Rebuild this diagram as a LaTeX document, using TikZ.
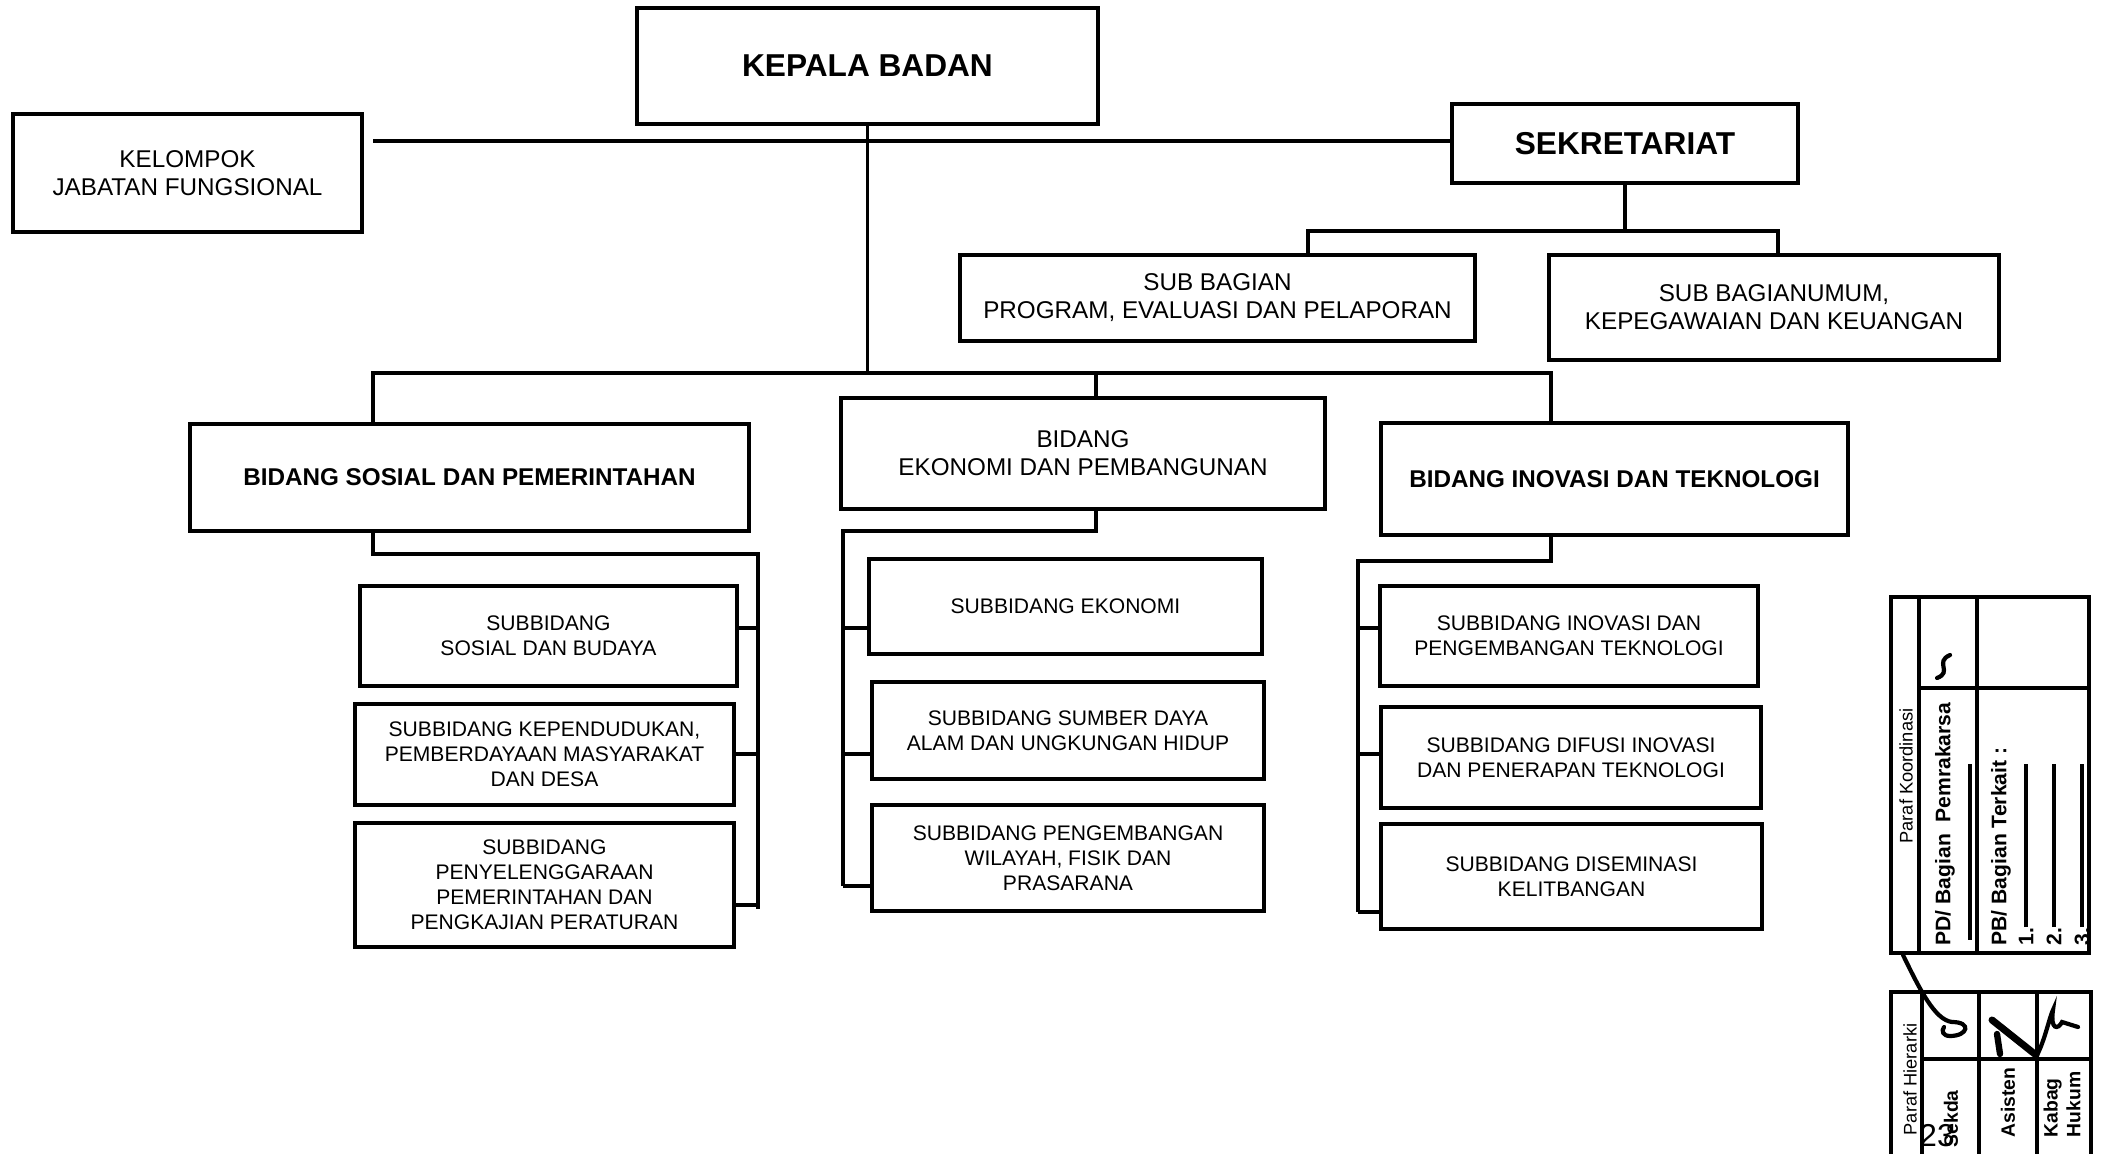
\documentclass[tikz,border=0pt]{standalone}
\usepackage{fontspec}
\setmainfont{Liberation Sans}

\begin{document}
\begin{tikzpicture}[x=0.1mm,y=-0.1mm,
  box/.style={draw,line width=1.3pt,align=center,inner sep=0pt},
  head/.style={font=\fontsize{9}{11}\selectfont\bfseries},
  plain/.style={font=\fontsize{6.9}{8}\selectfont},
  bid/.style={font=\fontsize{6.9}{8}\selectfont\bfseries},
  sub/.style={font=\fontsize{6}{7.1}\selectfont},
  link/.style={line width=1.1pt},
  cell/.style={line width=0.9pt},
  vtext/.style={rotate=90,inner sep=0pt},
  ttl/.style={font=\fontsize{5.2}{6}\selectfont},
  lbl/.style={font=\fontsize{6}{7}\selectfont\bfseries},
  sign/.style={line width=1.2pt,line cap=round}]
\useasboundingbox (0,0) rectangle (2108,1154);

% pimpinan dan sekretariat
\node[box,head,minimum width=46.1mm,minimum height=11.6mm] (kepala) at (867.5,66) {KEPALA BADAN};
\node[box,plain,minimum width=34.9mm,minimum height=11.8mm] (kelompok) at (187.5,173) {KELOMPOK\\JABATAN FUNGSIONAL};
\node[box,head,minimum width=34.6mm,minimum height=7.9mm] (sekretariat) at (1625,143.5) {SEKRETARIAT};
\node[box,plain,minimum width=51.5mm,minimum height=8.6mm] (subprog) at (1217.5,298) {SUB BAGIAN\\PROGRAM, EVALUASI DAN PELAPORAN};
\node[box,plain,minimum width=45mm,minimum height=10.5mm] (subumum) at (1774,307.5) {SUB BAGIANUMUM,\\KEPEGAWAIAN DAN KEUANGAN};

% bidang
\node[box,bid,minimum width=55.9mm,minimum height=10.7mm] (bidsos) at (469.5,477.5) {BIDANG SOSIAL DAN PEMERINTAHAN};
\node[box,plain,minimum width=48.4mm,minimum height=11.1mm] (bideko) at (1083,453.5) {BIDANG\\EKONOMI DAN PEMBANGUNAN};
\node[box,bid,minimum width=46.7mm,minimum height=11.2mm] (bidino) at (1614.5,479) {BIDANG INOVASI DAN TEKNOLOGI};

% subbidang
\node[box,sub,minimum width=37.7mm,minimum height=10mm] (sb11) at (548.5,636) {SUBBIDANG\\SOSIAL DAN BUDAYA};
\node[box,sub,minimum width=37.9mm,minimum height=10.1mm] (sb12) at (544.5,754.5) {SUBBIDANG KEPENDUDUKAN,\\PEMBERDAYAAN MASYARAKAT\\DAN DESA};
\node[box,sub,minimum width=37.9mm,minimum height=12.4mm] (sb13) at (544.5,885) {SUBBIDANG\\PENYELENGGARAAN\\PEMERINTAHAN DAN\\PENGKAJIAN PERATURAN};
\node[box,sub,minimum width=39.3mm,minimum height=9.5mm] (sb21) at (1065.5,606.5) {SUBBIDANG EKONOMI};
\node[box,sub,minimum width=39.2mm,minimum height=9.7mm] (sb22) at (1068,730.5) {SUBBIDANG SUMBER DAYA\\ALAM DAN UNGKUNGAN HIDUP};
\node[box,sub,minimum width=39.2mm,minimum height=10.6mm] (sb23) at (1068,858) {SUBBIDANG PENGEMBANGAN\\WILAYAH, FISIK DAN\\PRASARANA};
\node[box,sub,minimum width=37.8mm,minimum height=10mm] (sb31) at (1569,636) {SUBBIDANG INOVASI DAN\\PENGEMBANGAN TEKNOLOGI};
\node[box,sub,minimum width=38mm,minimum height=10.1mm] (sb32) at (1571,757.5) {SUBBIDANG DIFUSI INOVASI\\DAN PENERAPAN TEKNOLOGI};
\node[box,sub,minimum width=38.1mm,minimum height=10.5mm] (sb33) at (1571.5,876.5) {SUBBIDANG DISEMINASI\\KELITBANGAN};

% garis komando
\coordinate (jfend) at (373,141);
\coordinate (busW) at (373,373);
\coordinate (busE) at (1551,373);
\coordinate (ekotop) at (1096,373);
\coordinate (sekL) at (1308,231);
\coordinate (sekR) at (1778,231);
\coordinate (sosrail) at (758,554);
\coordinate (ekorail) at (843,531);
\coordinate (inorail) at (1358,561);

\draw[link] (jfend) -- (jfend -| sekretariat.west);
\draw[link] (kepala.south) -- (kepala.south |- busW);
\draw[link] (bidsos.north -| busW) |- (busE) -- (busE |- bidino.north);
\draw[link] (ekotop) -- (ekotop |- bideko.north);
\draw[link] (sekretariat.south) -- (sekretariat.south |- sekL);
\draw[link] (subprog.north -| sekL) |- (sekR) -- (sekR |- subumum.north);

\draw[link] (bidsos.south -| busW) |- (sosrail) -- (sosrail |- 0,909);
\draw[link] (bideko.south -| ekotop) |- (ekorail) -- (ekorail |- 0,886);
\draw[link] (bidino.south -| busE) |- (inorail) -- (inorail |- 0,912);
\foreach \b/\y in {sb11/628,sb12/754,sb13/905}
  \draw[link] (\b.east |- 0,\y) -- (sosrail |- 0,\y);
\foreach \b/\y in {sb21/628,sb22/754,sb23/886}
  \draw[link] (\b.west |- 0,\y) -- (ekorail |- 0,\y);
\foreach \b/\y in {sb31/628,sb32/754,sb33/912}
  \draw[link] (\b.west |- 0,\y) -- (inorail |- 0,\y);

% paraf koordinasi
\draw[cell] (1891,597) rectangle (2089,953);
\draw[cell] (1919,597) -- (1919,953) (1977,597) -- (1977,953) (1919,688) -- (2089,688);
\node[vtext,ttl] (pkoord) at (1906,776) {Paraf Koordinasi};
\node[vtext,lbl,anchor=west] (pd) at (1945,946) {PD/ Bagian\ \ Pemrakarsa};
\node[vtext,lbl,anchor=west] (pb) at (2001,946) {PB/ Bagian Terkait :};
\coordinate (pdtop) at (1970,764);
\draw[link] (pdtop) -- (pdtop |- 0,940);
\foreach \i/\x in {1/2026,2/2054,3/2082} {
  \node[vtext,lbl,anchor=west] (nr\i) at (\x,946) {\i.};
  \draw[link] (nr\i.east) -- (nr\i.east |- pdtop);
}
\draw[sign] (1937,678) .. controls (1953,672) and (1934,662) .. (1950,655);

% paraf hierarki
\draw[cell] (1891,992) rectangle (2091,1180);
\draw[cell] (1922,992) -- (1922,1180) (1979,992) -- (1979,1180) (2037,992) -- (2037,1180) (1922,1059) -- (2091,1059);
\node[vtext,ttl,anchor=west] (phier) at (1910,1136) {Paraf Hierarki};
\node[vtext,lbl,font=\fontsize{5.5}{6.5}\selectfont\bfseries,anchor=west] (sekda) at (1951,1148) {Sekda};
\node[vtext,lbl,font=\fontsize{5.5}{6.5}\selectfont\bfseries,anchor=west] (asisten) at (2008,1138) {Asisten};
\node[vtext,lbl,font=\fontsize{5.5}{6.5}\selectfont\bfseries,anchor=west,align=left] (kabag) at (2062,1138) {Kabag\\Hukum};
\node[font=\fontsize{9}{11}\selectfont,inner sep=0pt] (hal) at (1937,1136) {23};
\draw[sign] (1903,955) .. controls (1920,990) and (1935,1020) .. (1952,1022)
  .. controls (1972,1022) and (1968,1036) .. (1950,1036) .. controls (1943,1036) and (1941,1031) .. (1944,1027);
\draw[sign,line width=2pt] (1992,1020) -- (2036,1055);
\draw[sign,line width=1.8pt] (1997,1034) -- (2000,1054);
\draw[sign] (2037,1055) .. controls (2045,1040) and (2050,1015) .. (2053,1010)
  .. controls (2050,1030) and (2058,1030) .. (2062,1022) -- (2078,1027);
\end{tikzpicture}
\end{document}
